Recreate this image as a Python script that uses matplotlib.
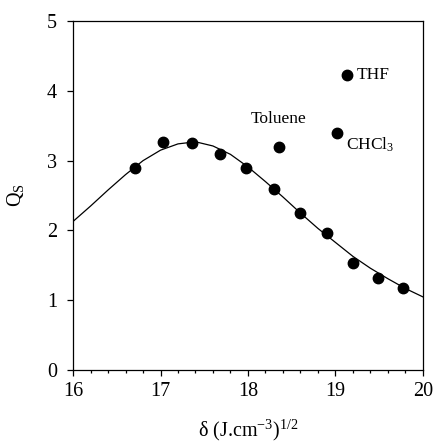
import matplotlib
matplotlib.use("Agg")
import matplotlib.pyplot as plt
from matplotlib.ticker import MultipleLocator

plt.rcParams['font.family'] = ['Liberation Serif', 'DejaVu Serif']
plt.rcParams['mathtext.fontset'] = 'custom'
plt.rcParams['mathtext.rm'] = 'Liberation Serif'
plt.rcParams['mathtext.it'] = 'Liberation Serif:italic'

# measured points on the curve
delta = [16.71, 17.03, 17.36, 17.68, 17.98, 18.30, 18.60, 18.90, 19.20, 19.49, 19.77]
qs = [2.90, 3.27, 3.25, 3.10, 2.90, 2.60, 2.25, 1.97, 1.54, 1.32, 1.18]

# off-curve solvents
solvents = ["Toluene", "CHCl$_3$", "THF"]
solv_delta = [18.35, 19.02, 19.13]
solv_qs = [3.19, 3.39, 4.23]

# fitted curve
fit_x = [16.0, 16.2, 16.4, 16.6, 16.8, 17.0, 17.2, 17.4, 17.6, 17.8, 18.0,
         18.2, 18.4, 18.6, 18.8, 19.0, 19.2, 19.4, 19.6, 19.8, 20.0]
fit_y = [2.13, 2.35, 2.58, 2.80, 3.00, 3.15, 3.24, 3.27, 3.21, 3.09, 2.91,
         2.70, 2.48, 2.25, 2.03, 1.83, 1.63, 1.46, 1.31, 1.17, 1.05]

fig = plt.figure(figsize=(4.35, 4.46), dpi=100)
ax = fig.add_axes([0.168, 0.170, 0.804, 0.783])

ax.plot(fit_x, fit_y, color='black', lw=0.9)
ax.plot(delta, qs, 'o', color='black', ms=7.5)
ax.plot(solv_delta, solv_qs, 'o', color='black', ms=7.5)

ax.text(solv_delta[0], 3.60, solvents[0], ha='center', va='center', fontsize=12.5)
ax.text(19.12, 3.22, solvents[1], ha='left', va='center', fontsize=12.5)
ax.text(19.24, solv_qs[2], solvents[2], ha='left', va='center', fontsize=12.5)

ax.set_xlim(16, 20)
ax.set_ylim(0, 5)
ax.xaxis.set_major_locator(MultipleLocator(1))
ax.xaxis.set_minor_locator(MultipleLocator(0.2))
ax.yaxis.set_major_locator(MultipleLocator(1))
ax.tick_params(axis='both', which='major', direction='out', length=4.5, width=0.9,
               labelsize=14.5)
ax.tick_params(axis='x', which='major', pad=4)
ax.tick_params(axis='y', which='major', pad=7)
ax.tick_params(axis='x', which='minor', direction='out', length=2.5, width=0.9)
for s in ax.spines.values():
    s.set_linewidth(0.9)

ax.set_xlabel(r"δ (J.cm$^{-3}$)$^{1/2}$", fontsize=14.5, labelpad=12)
ax.set_ylabel(r"Q$_\mathrm{S}$", fontsize=14.5, labelpad=15)

fig.savefig("out.png", dpi=100)
